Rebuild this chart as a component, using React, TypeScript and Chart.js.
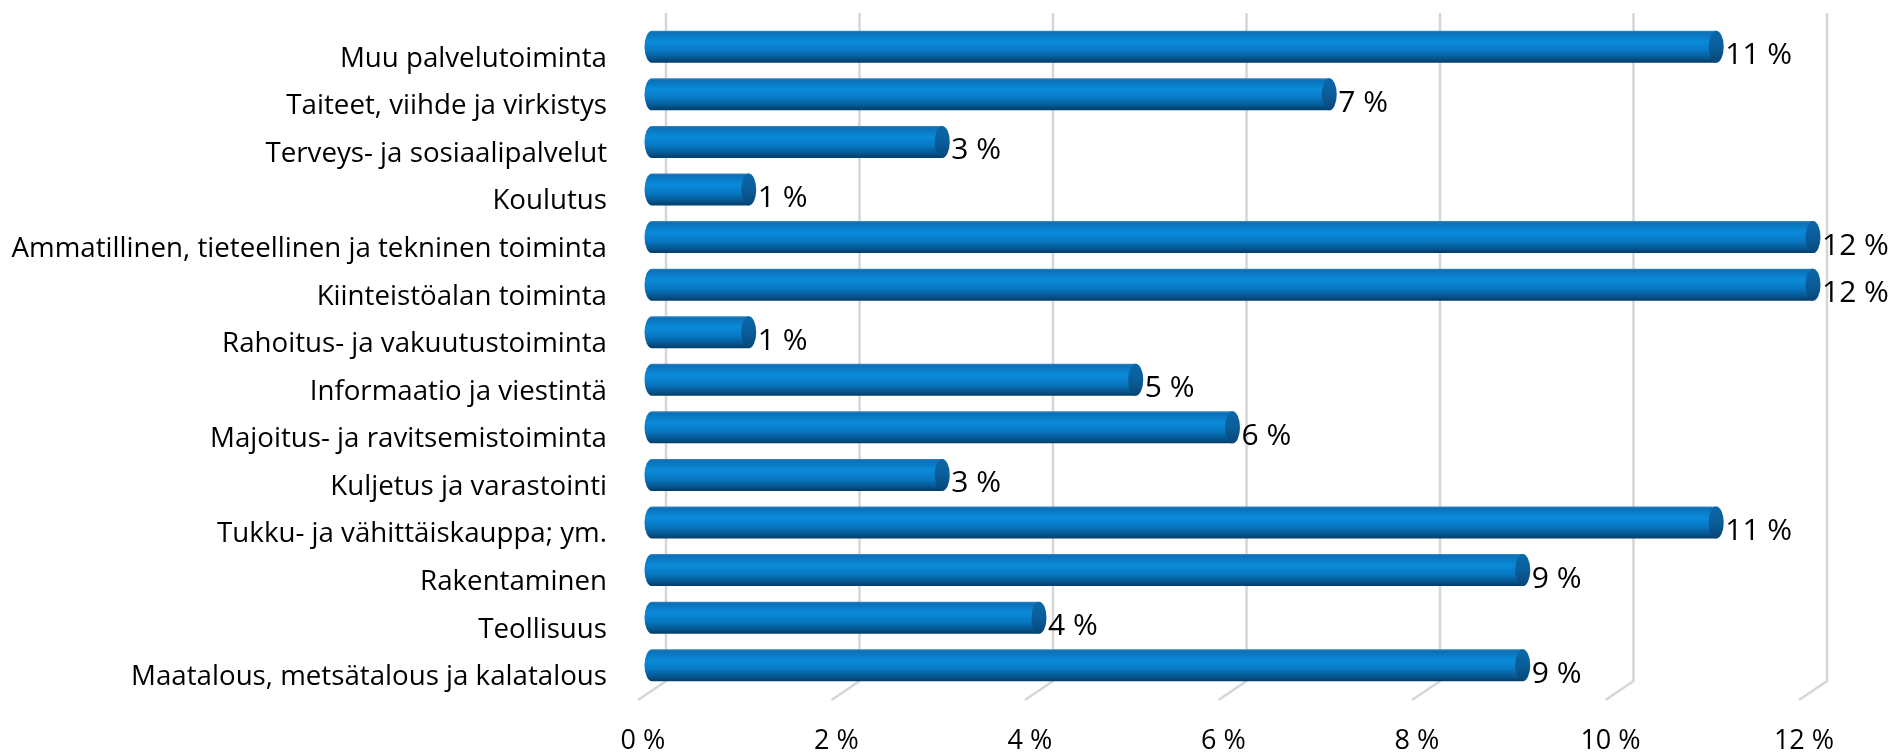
import { useEffect, useRef } from "react";
import { Chart, registerables } from "chart.js";

Chart.register(...registerables);

const categories = [
  "Muu palvelutoiminta",
  "Taiteet, viihde ja virkistys",
  "Terveys- ja sosiaalipalvelut",
  "Koulutus",
  "Ammatillinen, tieteellinen ja tekninen toiminta",
  "Kiinteistöalan toiminta",
  "Rahoitus- ja vakuutustoiminta",
  "Informaatio ja viestintä",
  "Majoitus- ja ravitsemistoiminta",
  "Kuljetus ja varastointi",
  "Tukku- ja vähittäiskauppa; ym.",
  "Rakentaminen",
  "Teollisuus",
  "Maatalous, metsätalous ja kalatalous",
];
const shares = [11, 7, 3, 1, 12, 12, 1, 5, 6, 3, 11, 9, 4, 9];
const xMin = 0;
const xMax = 12;
const xStep = 2;

const FONT = "'Open Sans', 'Noto Sans', sans-serif";
const CAP_RX = 7.5;

function bodyGradient(c: CanvasRenderingContext2D, top: number, bottom: number) {
  const g = c.createLinearGradient(0, top, 0, bottom);
  g.addColorStop(0, "#3a86c0");
  g.addColorStop(0.06, "#0b70b8");
  g.addColorStop(0.35, "#0a8bd9");
  g.addColorStop(0.62, "#0878c3");
  g.addColorStop(0.86, "#06568f");
  g.addColorStop(1, "#043c66");
  return g;
}

function capGradient(c: CanvasRenderingContext2D, top: number, bottom: number) {
  const g = c.createLinearGradient(0, top, 0, bottom);
  g.addColorStop(0, "#0a67a8");
  g.addColorStop(0.5, "#0a5e9a");
  g.addColorStop(1, "#064677");
  return g;
}

const cylinderPlugin = {
  id: "cylinder3d",
  beforeDatasetsDraw(chart: any) {
    const c: CanvasRenderingContext2D = chart.ctx;
    const xs = chart.scales.x;
    const area = chart.chartArea;
    c.save();
    c.strokeStyle = "#d6d6d6";
    c.lineWidth = 2.5;
    c.lineJoin = "miter";
    for (let v = xMin; v <= xMax + 1e-9; v += xStep) {
      const xb = xs.getPixelForValue(v) + 14;
      c.beginPath();
      c.moveTo(xb, area.top - 10);
      c.lineTo(xb, area.bottom - 8);
      c.lineTo(xb - 28, area.bottom + 11);
      c.stroke();
    }
    c.restore();
    const meta = chart.getDatasetMeta(0);
    c.save();
    meta.data.forEach((el: any) => {
      const { y, base, height } = el.getProps(["y", "base", "height"], true);
      const top = y - height / 2;
      const bottom = y + height / 2;
      const g = bodyGradient(c, top, bottom);
      el.options.backgroundColor = g;
      c.fillStyle = g;
      c.beginPath();
      c.ellipse(base, y, CAP_RX, height / 2, 0, Math.PI / 2, (3 * Math.PI) / 2);
      c.closePath();
      c.fill();
    });
    c.restore();
  },
  afterDatasetsDraw(chart: any) {
    const c: CanvasRenderingContext2D = chart.ctx;
    const meta = chart.getDatasetMeta(0);
    const data = chart.data.datasets[0].data as number[];
    c.save();
    meta.data.forEach((el: any, i: number) => {
      const { x, y, height } = el.getProps(["x", "y", "height"], true);
      const top = y - height / 2;
      const bottom = y + height / 2;
      c.fillStyle = capGradient(c, top, bottom);
      c.beginPath();
      c.ellipse(x, y, CAP_RX, height / 2, 0, 0, Math.PI * 2);
      c.fill();
      c.fillStyle = "#000000";
      c.font = `30px ${FONT}`;
      c.textAlign = "left";
      c.textBaseline = "middle";
      c.fillText(`${data[i]} %`, x + CAP_RX + 1.5, y + 9);
    });
    c.restore();
  },
};

export default function App() {
  const ref = useRef<HTMLCanvasElement | null>(null);
  useEffect(() => {
    if (!ref.current) return;
    const chart = new Chart(ref.current, {
      type: "bar",
      data: {
        labels: categories,
        datasets: [
          {
            data: shares,
            backgroundColor: () => "#0a7bc6",
            borderWidth: 0,
            barPercentage: 0.673,
            categoryPercentage: 1,
          },
        ],
      },
      options: {
        indexAxis: "y",
        responsive: false,
        animation: false,
        devicePixelRatio: 1,
        layout: { padding: { top: 23, right: 79, bottom: 0, left: 0 } },
        plugins: {
          legend: { display: false },
          tooltip: { enabled: false },
          title: { display: false },
        },
        scales: {
          x: {
            type: "linear",
            position: "bottom",
            min: xMin,
            max: xMax,
            grid: { display: false, drawTicks: false },
            border: { display: false },
            ticks: {
              stepSize: xStep,
              callback: (v: any) => `${v} %`,
              color: "#000000",
              font: { family: FONT, size: 27 },
              padding: 36,
              labelOffset: -9,
              maxRotation: 0,
            },
            afterFit: (s: any) => {
              s.height = 64;
              s.paddingLeft = 0;
              s.paddingRight = 0;
            },
          },
          y: {
            type: "category",
            position: "left",
            grid: { display: false, drawTicks: false },
            border: { display: false },
            ticks: {
              color: "#000000",
              font: { family: FONT, size: 27.7 },
              padding: 45,
              labelOffset: 12,
              autoSkip: false,
            },
            afterFit: (s: any) => {
              s.width = 652;
              s.paddingTop = 0;
              s.paddingBottom = 0;
            },
          },
        },
      },
      plugins: [cylinderPlugin],
    });
    return () => chart.destroy();
  }, []);
  return (
    <div style={{ position: "absolute", left: 0, top: 0, width: 1892, height: 753, background: "#ffffff" }}>
      <canvas ref={ref} width={1892} height={753} style={{ display: "block" }} />
    </div>
  );
}
